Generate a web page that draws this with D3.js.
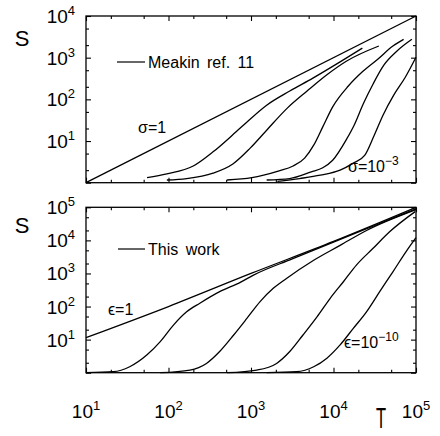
<!DOCTYPE html>
<html>
<head>
<meta charset="utf-8">
<script src="https://cdn.jsdelivr.net/npm/d3@7"></script>
<style>
body { margin: 0; background: #fff; }
svg { font-family: "Liberation Sans", Arial, Helvetica, sans-serif; }
.domain { display: none; }
.curve { fill: none; stroke: #000; stroke-width: 1.3; }
</style>
</head>
<body>
<div id="chart"></div>
<script>
// Curves as [log10 T, log10 S]
const tExps = [1, 2, 3, 4, 5];
const topExps = [1, 2, 3, 4];
const botExps = [1, 2, 3, 4, 5];

// upper panel, Meakin ref. 11
const sigmaOne = [[1, 0], [5, 4]];
const sigmaB = [[1.74,0.12],[1.98,0.21],[2.30,0.40],[2.54,0.74],[2.87,1.31],[3.19,1.86],[3.47,2.20],[3.75,2.51],[4.08,2.90],[4.35,3.23]];
const sigmaC = [[1.98,0.065],[2.22,0.10],[2.54,0.23],[2.78,0.45],[2.99,0.83],[3.19,1.26],[3.44,1.79],[3.68,2.20],[3.92,2.59],[4.16,2.92],[4.55,3.28]];
const sigmaD = [[2.71,0.065],[3.01,0.12],[3.33,0.28],[3.51,0.40],[3.65,0.59],[3.76,0.90],[3.87,1.34],[3.99,1.82],[4.18,2.32],[4.35,2.66],[4.54,2.97],[4.72,3.28],[4.85,3.44]];
const sigmaE = [[3.19,0.065],[3.47,0.10],[3.73,0.26],[3.87,0.36],[3.99,0.54],[4.16,1.05],[4.25,1.38],[4.36,1.89],[4.48,2.37],[4.61,2.82],[4.77,3.16],[4.95,3.44]];
const sigmaMin = [[3.32,0.03],[3.59,0.10],[3.84,0.18],[4.08,0.30],[4.24,0.47],[4.38,0.66],[4.49,1.12],[4.60,1.62],[4.73,2.10],[4.87,2.53],[5.0,3.01]];

// lower panel, this work
const epsOne = [[1,1.06],[2,2.0],[3,3.0],[4,3.97],[5,5.0]];
const epsB = [[1.0,0.0],[1.33,0.03],[1.53,0.18],[1.74,0.54],[1.90,0.94],[2.06,1.44],[2.22,1.84],[2.38,2.10],[2.62,2.45],[2.87,2.73],[3.03,2.95],[3.5,3.44],[4,3.95],[4.5,4.45],[5,4.95]];
const epsC = [[1.90,0.0],[2.26,0.08],[2.46,0.28],[2.62,0.64],[2.79,1.14],[2.95,1.64],[3.11,2.15],[3.27,2.55],[3.43,2.85],[3.76,3.40],[4.08,3.85],[4.4,4.3],[5,4.93]];
const epsD = [[2.71,0.0],[3.07,0.08],[3.31,0.28],[3.47,0.64],[3.63,1.14],[3.80,1.69],[3.96,2.25],[4.12,2.75],[4.28,3.26],[4.48,3.76],[4.68,4.26],[4.99,4.87]];
const epsMin = [[3.19,0.0],[3.55,0.03],[3.76,0.18],[3.92,0.44],[4.08,0.84],[4.24,1.34],[4.40,1.84],[4.56,2.45],[4.72,3.05],[4.88,3.66],[5.0,4.08]];

const width = 440, height = 436;
const left = 86, right = 416;

const svg = d3.select("#chart")
    .append("svg")
    .attr("width", width)
    .attr("height", height);

const x = d3.scaleLog().domain([10, 1e5]).range([left, right]);

const panels = [
    { top: 16, bottom: 182.7, maxExp: 4, exps: topExps, curves: [sigmaOne, sigmaB, sigmaC, sigmaD, sigmaE, sigmaMin] },
    { top: 207.3, bottom: 372.7, maxExp: 5, exps: botExps, curves: [epsOne, epsB, epsC, epsD, epsMin] }
];

// decades plus 2x and 5x
function tickVals(lo, hi) {
    const major = [], minor = [];
    for (let e = lo; e <= hi; e++) {
        major.push(Math.pow(10, e));
        if (e < hi) { minor.push(2 * Math.pow(10, e)); minor.push(5 * Math.pow(10, e)); }
    }
    return { major, minor };
}

function powLabel(g, px, py, exp, anchor) {
    const t = g.append("text")
        .attr("x", px).attr("y", py)
        .attr("text-anchor", anchor)
        .style("font-size", "19px");
    t.append("tspan").text("10");
    t.append("tspan").attr("dy", -8).style("font-size", "13px").text(exp);
}

const xt = tickVals(1, 5);

panels.forEach(p => {
    const y = d3.scaleLog().domain([1, Math.pow(10, p.maxExp)]).range([p.bottom, p.top]);
    const yt = tickVals(0, p.maxExp);
    const g = svg.append("g");

    // inward ticks on all four sides
    [[xt.major, 5], [xt.minor, 3]].forEach(([vals, len]) => {
        g.append("g").attr("transform", `translate(0,${p.bottom})`)
            .call(d3.axisBottom(x).tickValues(vals).tickSize(-len).tickFormat(""));
        g.append("g").attr("transform", `translate(0,${p.top})`)
            .call(d3.axisTop(x).tickValues(vals).tickSize(-len).tickFormat(""));
    });
    [[yt.major, 5], [yt.minor, 3]].forEach(([vals, len]) => {
        g.append("g").attr("transform", `translate(${left},0)`)
            .call(d3.axisLeft(y).tickValues(vals).tickSize(-len).tickFormat(""));
        g.append("g").attr("transform", `translate(${right},0)`)
            .call(d3.axisRight(y).tickValues(vals).tickSize(-len).tickFormat(""));
    });
    g.selectAll(".tick line").attr("stroke", "#000").attr("stroke-width", 1.1);

    g.append("rect")
        .attr("x", left).attr("y", p.top)
        .attr("width", right - left).attr("height", p.bottom - p.top)
        .attr("fill", "none").attr("stroke", "#000").attr("stroke-width", 1.3);

    const line = d3.line()
        .x(d => x(Math.pow(10, d[0])))
        .y(d => y(Math.pow(10, d[1])))
        .curve(d3.curveMonotoneX);

    g.selectAll(".curve")
        .data(p.curves)
        .enter()
        .append("path")
        .attr("class", "curve")
        .attr("d", line);

    p.exps.forEach(e => powLabel(g, 75, y(Math.pow(10, e)) + 7, e, "end"));

    g.append("text")
        .attr("x", 22).attr("y", y(Math.pow(10, p.maxExp - 0.5)) + 9)
        .attr("text-anchor", "middle")
        .style("font-size", "22px")
        .text("S");
});

// x tick labels under the lower panel
tExps.forEach(e => powLabel(svg, x(Math.pow(10, e)), 418, e, "middle"));

svg.append("text")
    .attr("transform", "translate(381,428) scale(0.55,1)")
    .attr("text-anchor", "middle")
    .style("font-size", "30px")
    .attr("fill", "#000")
    .text("T");

// legends
svg.append("line").attr("x1", 117).attr("x2", 145).attr("y1", 62).attr("y2", 62)
    .attr("stroke", "#000").attr("stroke-width", 1.2);
svg.append("text").attr("x", 148).attr("y", 68)
    .style("font-size", "16px").style("word-spacing", "3px")
    .text("Meakin ref. 11");

svg.append("line").attr("x1", 118).attr("x2", 145).attr("y1", 249).attr("y2", 249)
    .attr("stroke", "#000").attr("stroke-width", 1.2);
svg.append("text").attr("x", 148).attr("y", 255)
    .style("font-size", "16px").style("word-spacing", "3px")
    .text("This work");

// curve labels
function note(px, py, main, sup) {
    const t = svg.append("text").attr("x", px).attr("y", py).style("font-size", "16px");
    t.append("tspan").text(main);
    if (sup) t.append("tspan").attr("dy", -7).style("font-size", "12px").text(sup);
}
note(138, 133, "σ=1");
note(348, 172, "σ=10", "−3");
note(108, 315, "ϵ=1");
note(344, 348, "ϵ=10", "−10");
</script>
</body>
</html>
